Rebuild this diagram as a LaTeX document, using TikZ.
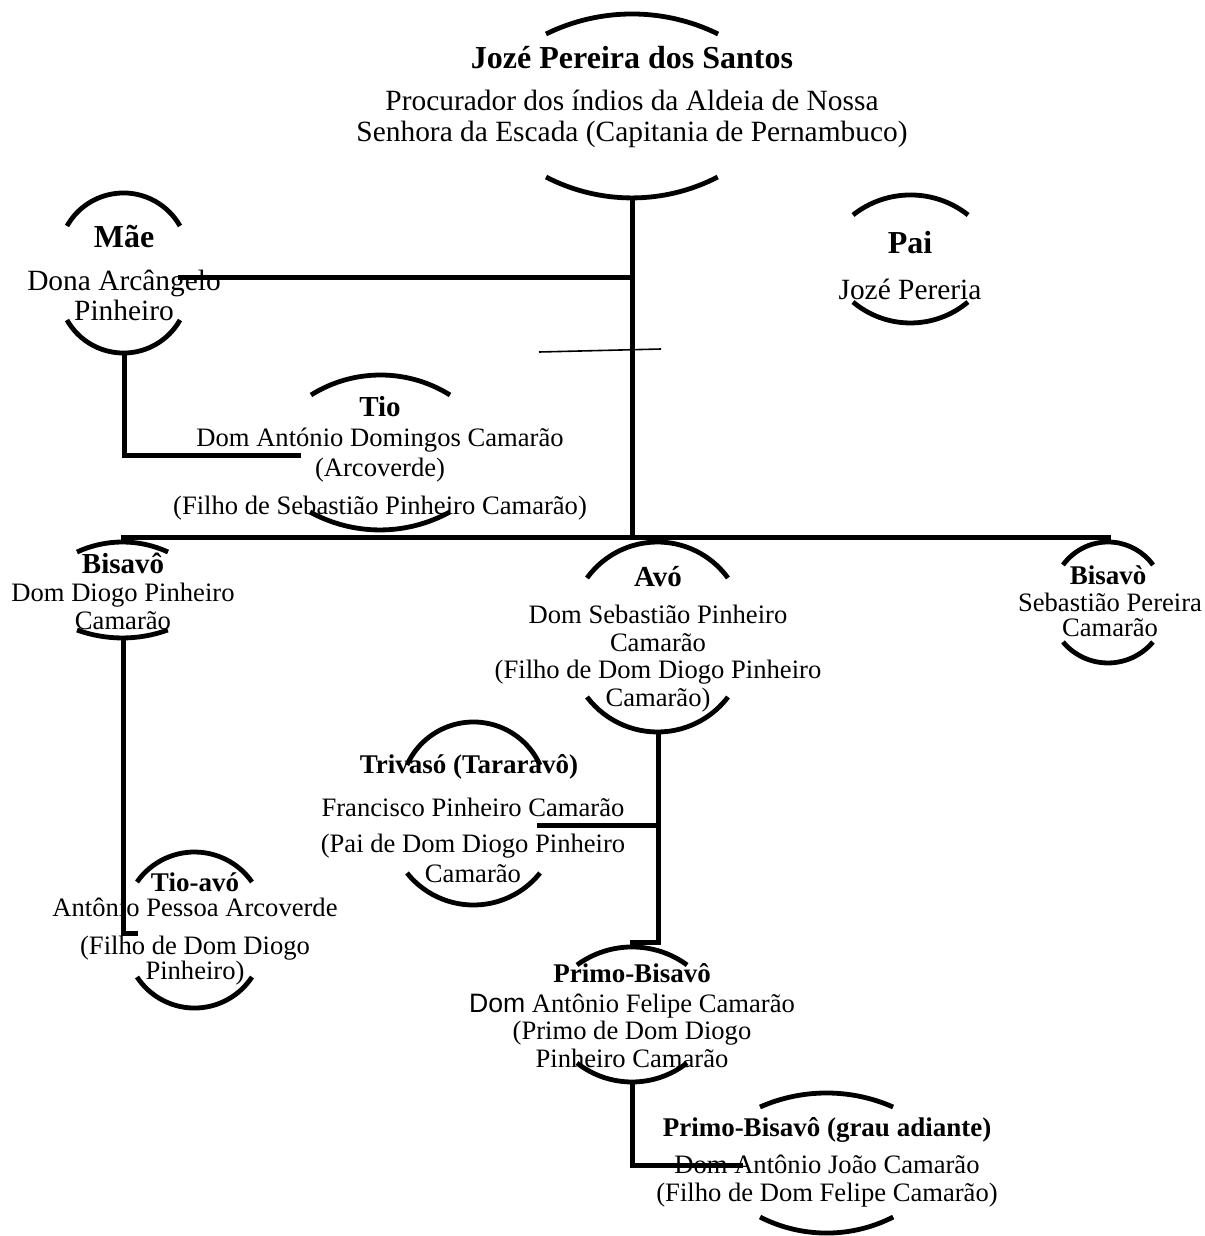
\documentclass[tikz,border=0pt]{standalone}
\usepackage{fontspec}
\setmainfont{Liberation Serif}
\setsansfont{Liberation Sans}

\begin{document}
\begin{tikzpicture}[x=0.5pt, y=0.5pt,
                who/.style={font=\fontsize{13.5}{15}\selectfont\bfseries, inner sep=0pt},
                bigwho/.style={font=\fontsize{16}{18}\selectfont\bfseries, inner sep=0pt},
                info/.style={font=\fontsize{13.3}{13.9}\selectfont, align=center, inner sep=0pt},
                biginfo/.style={font=\fontsize{14.7}{15.5}\selectfont, align=center, inner sep=0pt},
                arcpen/.style={line width=2.4pt},
                link/.style={line width=2.5pt},
                thinlink/.style={line width=0.8pt}
            ]
                \useasboundingbox (0,0) rectangle (1204,-1236);

                % Jozé Pereira dos Santos
                \draw[arcpen] (546,-34) arc[start angle=116.2, end angle=63.8, radius=97.45pt];
                \node[bigwho] (jps) at (632,-58) {Jozé Pereira dos Santos};
                \node[biginfo] (jpsinfo) at (632,-118.5) {Procurador dos índios da Aldeia de Nossa\\Senhora da Escada (Capitania de Pernambuco)};
                \draw[arcpen] (546,-177) arc[start angle=242.6, end angle=297.4, radius=93.3pt];

                % Mãe
                \draw[arcpen] (67,-226) arc[start angle=150.6, end angle=29.4, radius=32.43pt];
                \node[bigwho] (mae) at (124,-237) {Mãe};
                \node[biginfo, font=\fontsize{14.7}{15}\selectfont] (maeinfo) at (124,-295) {Dona Arcângelo\\Pinheiro};
                \draw[arcpen] (67,-320) arc[start angle=209.4, end angle=330.6, radius=32.43pt];

                % Pai
                \draw[arcpen] (853,-215) arc[start angle=128.4, end angle=51.6, radius=46.33pt];
                \node[bigwho] (pai) at (910,-243) {Pai};
                \node[biginfo] (paiinfo) at (910,-289) {Jozé Pereria};
                \draw[arcpen] (853,-302) arc[start angle=229.9, end angle=310.1, radius=44.6pt];

                % Tio
                \draw[arcpen] (311,-395) arc[start angle=122.1, end angle=57.9, radius=65.4pt];
                \node[who, font=\fontsize{14.5}{15}\selectfont\bfseries] (tio) at (380,-407) {Tio};
                \node[info, font=\fontsize{13.3}{15}\selectfont] (tioinfo) at (380,-474) {Dom António Domingos Camarão\\(Arcoverde)\\[4pt](Filho de Sebastião Pinheiro Camarão)};
                \draw[arcpen] (310,-512) arc[start angle=241.2, end angle=298.8, radius=72.55pt];

                % Bisavô
                \draw[arcpen] (77,-552) arc[start angle=114.8, end angle=65.2, radius=54.25pt];
                \node[who, font=\fontsize{14.5}{15}\selectfont\bfseries] (bisavo) at (123,-563) {Bisavô};
                \node[info, font=\fontsize{13.3}{14}\selectfont] (bisavoinfo) at (123,-606) {Dom Diogo Pinheiro\\Camarão};
                \draw[arcpen] (77,-630) arc[start angle=250.1, end angle=289.9, radius=66.7pt];

                % Avó
                \draw[arcpen] (587,-578) arc[start angle=144.1, end angle=35.9, radius=43.5pt];
                \node[who, font=\fontsize{14.5}{15}\selectfont\bfseries] (avo) at (658,-577) {Avó};
                \node[info] (avoinfo) at (658,-658.5) {Dom Sebastião Pinheiro\\Camarão\\(Filho de Dom Diogo Pinheiro\\Camarão)};
                \draw[arcpen] (587,-697) arc[start angle=217.2, end angle=322.8, radius=44.25pt];

                % Bisavò
                \draw[arcpen] (1063,-565) arc[start angle=144.2, end angle=35.8, radius=27.75pt];
                \node[who] (bisavor) at (1108,-575) {Bisavò};
                \node[info, font=\fontsize{13.3}{12.5}\selectfont] (bisavorinfo) at (1110,-614.5) {Sebastião Pereira\\Camarão};
                \draw[arcpen] (1063,-642) arc[start angle=220, end angle=320, radius=29.35pt];

                % Trivasó
                \draw[arcpen] (407,-765) arc[start angle=155.8, end angle=24.2, radius=36.45pt];
                \node[who] (trivaso) at (469,-767) {Trivasó (Tararavô)};
                \node[info, font=\fontsize{13.3}{15}\selectfont] (trivasoinfo) at (473,-840) {Francisco Pinheiro Camarão\\[3pt](Pai de Dom Diogo Pinheiro\\Camarão};
                \draw[arcpen] (407,-873) arc[start angle=218.6, end angle=321.4, radius=42.55pt];

                % Tio-avó
                \draw[arcpen] (137,-882) arc[start angle=145.1, end angle=34.9, radius=35.05pt];
                \node[who] (tioavo) at (195,-882) {Tio-avó};
                \node[info, font=\fontsize{13.3}{12.5}\selectfont] (tioavoinfo) at (195,-941.5) {Antônio Pessoa Arcoverde\\[6.5pt](Filho de Dom Diogo\\Pinheiro)};
                \draw[arcpen] (137,-977) arc[start angle=213.3, end angle=326.7, radius=34.4pt];

                % Primo-Bisavô
                \draw[arcpen] (577,-965) arc[start angle=126.3, end angle=53.7, radius=46.5pt];
                \node[who] (primo) at (632,-973) {Primo-Bisavô};
                \node[info, font=\fontsize{13.3}{13.8}\selectfont] (primoinfo) at (632,-1030.5) {{\sffamily Dom} Antônio Felipe Camarão\\(Primo de Dom Diogo\\Pinheiro Camarão};
                \draw[arcpen] (577,-1063) arc[start angle=231.9, end angle=308.1, radius=44.55pt];

                % Primo-Bisavô (grau adiante)
                \draw[arcpen] (760,-1107) arc[start angle=113.8, end angle=66.2, radius=82.45pt];
                \node[who] (primog) at (827,-1130) {Primo-Bisavô (grau adiante)};
                \node[info, font=\fontsize{13.3}{14}\selectfont] (primoginfo) at (827,-1181) {Dom Antônio João Camarão\\(Filho de Dom Felipe Camarão)};
                \draw[arcpen] (760,-1217) arc[start angle=242.9, end angle=297.1, radius=73.1pt];

                % Junctions
                \coordinate (jpsfoot) at (632,-198);
                \coordinate (maeknot) at (632,-277);
                \coordinate (maehand) at (178,-277);
                \coordinate (maefoot) at (124,-353);
                \coordinate (tiohand) at (301,-455);
                \coordinate (barmid) at (632,-537);
                \coordinate (barleft) at (123,-537);
                \coordinate (barright) at (1108,-537);
                \coordinate (bisavohead) at (123,-542);
                \coordinate (bisavorhead) at (1108,-542);
                \coordinate (bisavofoot) at (123,-638);
                \coordinate (tioavohand) at (138,-933);
                \coordinate (avofoot) at (658,-732);
                \coordinate (avoknot) at (658,-825);
                \coordinate (trivasohand) at (537,-825);
                \coordinate (avobend) at (658,-942);
                \coordinate (primohead) at (632,-947);
                \coordinate (primofoot) at (632,-1082);
                \coordinate (primoghand) at (743,-1165);
                \coordinate (thinleft) at (539,-352);
                \coordinate (thinright) at (661,-349);

                % Connectors
                \draw[link] (jpsfoot) -- (barmid);
                \draw[link] (maehand) -- (maeknot);
                \draw[link] (maefoot) |- (tiohand);
                \draw[link] (bisavohead) -- (barleft) -- (barright) -- (bisavorhead);
                \draw[link] (bisavofoot) |- (tioavohand);
                \draw[link] (avofoot) -- (avobend) -| (primohead);
                \draw[link] (trivasohand) -- (avoknot);
                \draw[link] (primofoot) |- (primoghand);
                \draw[thinlink] (thinleft) -- (thinright);
            \end{tikzpicture}
\end{document}
